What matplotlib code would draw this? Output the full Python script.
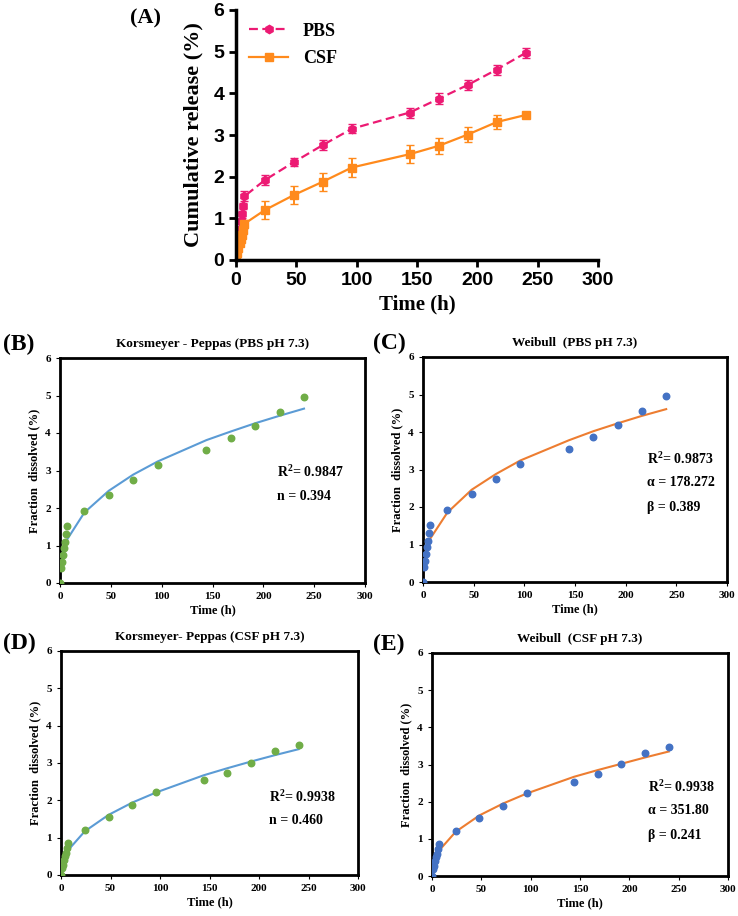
import matplotlib as mpl
mpl.use('Agg')
import matplotlib.pyplot as plt
from matplotlib.lines import Line2D
import numpy as np

plt.rcParams['font.family'] = ['Liberation Serif', 'DejaVu Serif']
plt.rcParams['font.weight'] = 'bold'
plt.rcParams['mathtext.fontset'] = 'custom'
plt.rcParams['mathtext.rm'] = 'Liberation Serif:bold'

# sampling times (h)
time_h = [0, 1, 2, 3, 4, 5, 6, 7, 24, 48, 72, 96, 144, 168, 192, 216, 240]

# measured release (%)
pbs_release = [0, 0.40, 0.57, 0.74, 0.93, 1.10, 1.30, 1.53, 1.92, 2.35, 2.76, 3.15, 3.54, 3.87, 4.20, 4.57, 4.97]
pbs_err = [0.03, 0.05, 0.05, 0.06, 0.06, 0.08, 0.08, 0.12, 0.12, 0.10, 0.12, 0.11, 0.12, 0.13, 0.12, 0.12, 0.13]
csf_release = [0, 0.18, 0.28, 0.40, 0.50, 0.60, 0.72, 0.87, 1.20, 1.56, 1.88, 2.22, 2.54, 2.74, 3.01, 3.31, 3.48]
csf_err = [0.03, 0.04, 0.05, 0.05, 0.06, 0.07, 0.08, 0.10, 0.21, 0.22, 0.22, 0.23, 0.22, 0.20, 0.18, 0.17, 0.04]

kp_pbs_fit = [0, 0.54, 0.71, 0.83, 0.93, 1.01, 1.09, 1.16, 1.88, 2.46, 2.89, 3.24, 3.81, 4.04, 4.26, 4.46, 4.65]
wb_pbs_fit = [0, 0.50, 0.68, 0.81, 0.91, 1.00, 1.08, 1.15, 1.85, 2.46, 2.88, 3.24, 3.78, 4.02, 4.23, 4.43, 4.61]
kp_csf_fit = [0, 0.27, 0.37, 0.45, 0.51, 0.57, 0.62, 0.66, 1.17, 1.61, 1.94, 2.21, 2.67, 2.86, 3.04, 3.21, 3.37]
wb_csf_fit = [0, 0.22, 0.35, 0.44, 0.51, 0.57, 0.63, 0.68, 1.19, 1.63, 1.95, 2.22, 2.67, 2.85, 3.02, 3.19, 3.35]

pink = '#EC1A73'
orange = '#FF8A1C'
green = '#70AD47'
blue_pt = '#4472C4'
blue_ln = '#5B9BD5'
orange_ln = '#ED7D31'

W, H = 738, 916
fig = plt.figure(figsize=(W / 100, H / 100), dpi=100)


def px_axes(left, top, right, bottom):
    return fig.add_axes([left / W, 1 - bottom / H, (right - left) / W, (bottom - top) / H])


# ---- panel A ----
ax = px_axes(236, 10, 598, 260)
ax.errorbar(time_h, pbs_release, yerr=pbs_err, color=pink, ls=(0, (4, 2)), lw=1.6,
            marker='h', ms=6, capsize=3, elinewidth=1.4)
ax.errorbar(time_h, csf_release, yerr=csf_err, color=orange, ls='-', lw=1.6,
            marker='s', ms=6, capsize=3, elinewidth=1.4)
ax.set_xlim(0, 300)
ax.set_ylim(0, 6)
ax.set_xticks(np.arange(0, 301, 50))
ax.set_yticks(np.arange(0, 7, 1))
for s in ['top', 'right']:
    ax.spines[s].set_visible(False)
for s in ['left', 'bottom']:
    ax.spines[s].set_linewidth(2.5)
ax.tick_params(width=2, length=5, labelsize=14)
for lab in ax.get_xticklabels() + ax.get_yticklabels():
    lab.set_family(['Liberation Sans', 'DejaVu Sans'])
    lab.set_fontweight('bold')
ax.set_xlabel('Time (h)', fontsize=15, fontweight='bold')
ax.set_ylabel('Cumulative release (%)', fontsize=16, fontweight='bold', labelpad=7)
handles = [Line2D([], [], color=pink, ls=(0, (4, 2)), lw=1.6, marker='h', ms=6),
           Line2D([], [], color=orange, ls='-', lw=1.6, marker='s', ms=6)]
leg = ax.legend(handles, ['PBS', 'CSF'], loc='upper left', frameon=False, fontsize=13,
                handlelength=2.2, borderaxespad=0.3, labelspacing=0.6)
for t in leg.get_texts():
    t.set_fontweight('bold')
fig.text(130 / W, 1 - 18 / H, '(A)', fontsize=16, fontweight='bold', va='center')


def fit_panel(box, pts, pt_color, fit, fit_color, title, tag, tag_xy, notes):
    a = px_axes(*box)
    a.plot(time_h, fit, color=fit_color, lw=1.5, zorder=2)
    a.scatter(time_h, pts, color=pt_color, s=22, zorder=3)
    a.set_xlim(0, 300)
    a.set_ylim(0, 6)
    a.set_xticks(np.arange(0, 301, 50))
    a.set_yticks(np.arange(0, 7, 1))
    for s in a.spines.values():
        s.set_linewidth(2)
    a.tick_params(labelsize=8, length=3)
    a.set_xlabel('Time (h)', fontsize=9, fontweight='bold', labelpad=2)
    a.set_ylabel('Fraction  dissolved (%)', fontsize=9, fontweight='bold', labelpad=4)
    a.set_title(title, fontsize=9.5, fontweight='bold', pad=8)
    for x, y, txt in notes:
        a.text(x, y, txt, fontsize=10, fontweight='bold', va='center')
    fig.text(tag_xy[0] / W, 1 - tag_xy[1] / H, tag, fontsize=17, fontweight='bold', va='center')
    return a


fit_panel((60, 358, 365, 583), pbs_release, green, kp_pbs_fit, blue_ln,
          'Korsmeyer - Peppas (PBS pH 7.3)', '(B)', (3, 344),
          [(213, 2.96, r'R$^{2}$= 0.9847'), (213, 2.30, 'n = 0.394')])
fit_panel((423, 357, 727, 582), pbs_release, blue_pt, wb_pbs_fit, orange_ln,
          'Weibull  (PBS pH 7.3)', '(C)', (373, 343),
          [(221, 3.28, r'R$^{2}$= 0.9873'), (221, 2.64, 'α = 178.272'), (221, 2.00, 'β = 0.389')])
fit_panel((61, 651, 358, 875), csf_release, green, kp_csf_fit, blue_ln,
          'Korsmeyer- Peppas (CSF pH 7.3)', '(D)', (3, 643),
          [(210, 2.09, r'R$^{2}$= 0.9938'), (210, 1.45, 'n = 0.460')])
fit_panel((432, 653, 728, 876), csf_release, blue_pt, wb_csf_fit, orange_ln,
          'Weibull  (CSF pH 7.3)', '(E)', (373, 644),
          [(219, 2.39, r'R$^{2}$= 0.9938'), (219, 1.75, 'α = 351.80'), (219, 1.10, 'β = 0.241')])

fig.savefig('out.png', dpi=100)
